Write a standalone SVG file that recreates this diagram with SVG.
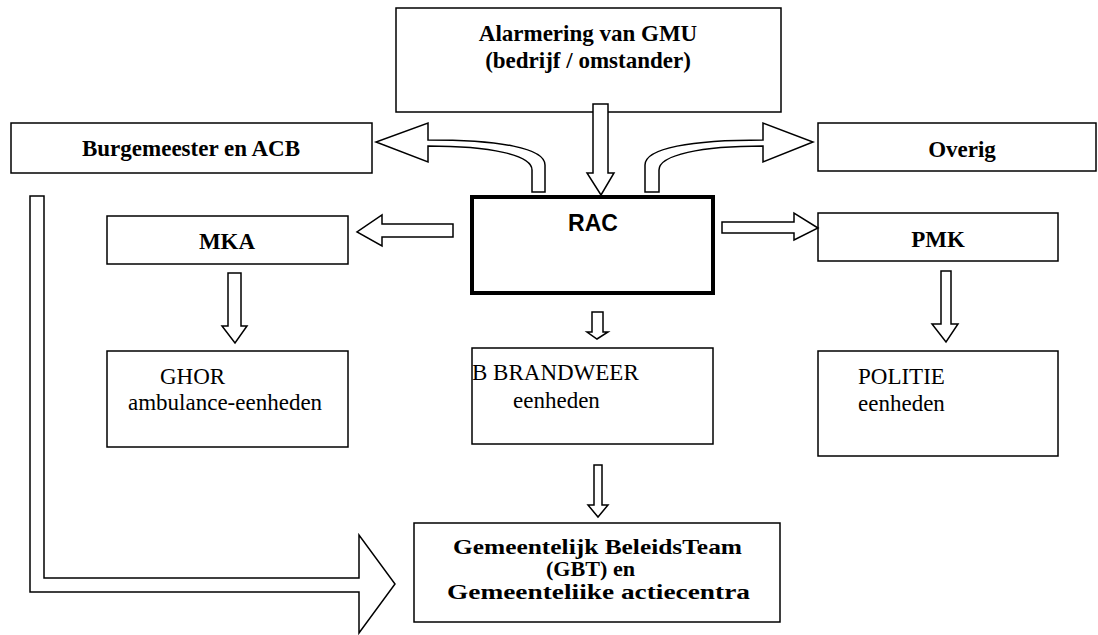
<svg xmlns="http://www.w3.org/2000/svg" width="1098" height="635" viewBox="0 0 1098 635">
<style>
.box{fill:#fff;stroke:#000;stroke-width:1.5}
.rac{fill:#fff;stroke:#000;stroke-width:4}
.arr{fill:#fff;stroke:#000;stroke-width:1.5;stroke-linejoin:miter}
.b{font-family:"Liberation Serif","Times New Roman",serif;font-weight:bold;font-size:23px;fill:#000}
.g{font-family:"Liberation Serif","Times New Roman",serif;font-weight:bold;font-size:20px;fill:#000}
.r{font-family:"Liberation Serif","Times New Roman",serif;font-size:23px;fill:#000}
.s{font-family:"Liberation Sans",Arial,sans-serif;font-weight:bold;font-size:23px;fill:#000}
</style>
<rect width="1098" height="635" fill="#fff"/>
<g id="alarmering">
<rect class="box" x="396" y="8" width="385" height="104"/>
<text class="b" x="588" y="41" text-anchor="middle">Alarmering van GMU</text>
<text class="b" x="588" y="68" text-anchor="middle">(bedrijf / omstander)</text>
</g>
<g id="burgemeester">
<rect class="box" x="11" y="123" width="361" height="50"/>
<text class="b" x="191" y="156" text-anchor="middle">Burgemeester en ACB</text>
</g>
<g id="overig">
<rect class="box" x="818" y="123" width="278" height="48"/>
<text class="b" x="962" y="157" text-anchor="middle">Overig</text>
</g>
<g id="rac">
<rect class="rac" x="472" y="197" width="241" height="96"/>
<text class="s" x="593" y="231" text-anchor="middle">RAC</text>
</g>
<g id="mka">
<rect class="box" x="107" y="216" width="241" height="48"/>
<text class="b" x="227" y="249" text-anchor="middle">MKA</text>
</g>
<g id="pmk">
<rect class="box" x="818" y="213" width="240" height="48"/>
<text class="b" x="938" y="247" text-anchor="middle">PMK</text>
</g>
<g id="ghor">
<rect class="box" x="107" y="351" width="241" height="96"/>
<text class="r" x="160" y="384">GHOR</text>
<text class="r" x="128" y="410">ambulance-eenheden</text>
</g>
<g id="brandweer">
<rect class="box" x="472" y="348" width="241" height="96"/>
<text class="r" x="472" y="380">B BRANDWEER</text>
<text class="r" x="513" y="408">eenheden</text>
</g>
<g id="politie">
<rect class="box" x="818" y="351" width="240" height="105"/>
<text class="r" x="858" y="384">POLITIE</text>
<text class="r" x="858" y="411">eenheden</text>
</g>
<g id="gbt">
<rect class="box" x="414" y="523" width="366" height="99"/>
<text class="g" x="453" y="554" textLength="289" lengthAdjust="spacingAndGlyphs">Gemeentelijk BeleidsTeam</text>
<text class="g" x="546" y="576" textLength="89" lengthAdjust="spacingAndGlyphs">(GBT) en</text>
<text class="g" x="447" y="599" textLength="303" lengthAdjust="spacingAndGlyphs">Gemeenteliike actiecentra</text>
</g>
<g id="connectors">
<path class="arr" d="M593,104 L608,104 L608,173 L614,173 L601,195 L587,173 L593,173 Z"/>
<path class="arr" d="M532,192 L532,170 C532,155 490,146 428,146 L428,162 L376,142 L428,123 L428,140 C500,140 545,148 545,165 L545,192 Z"/>
<path class="arr" d="M659,192 L659,170 C659,155 701,146 763,146 L763,162 L813,142 L763,123 L763,140 C691,140 645,148 645,165 L645,192 Z"/>
<path class="arr" d="M453,224 L453,237 L382,237 L382,246 L357,232 L382,215 L382,224 Z"/>
<path class="arr" d="M722,222 L722,233 L794,233 L794,240 L818,228 L794,213 L794,222 Z"/>
<path class="arr" d="M228,273 L241,273 L241,326 L247,326 L235,343 L222,326 L228,326 Z"/>
<path class="arr" d="M941,271 L951,271 L951,324 L958,324 L946,342 L932,324 L941,324 Z"/>
<path class="arr" d="M592,312 L603,312 L603,332 L608,332 L597,339 L587,332 L592,332 Z"/>
<path class="arr" d="M594,465 L602,465 L602,505 L608,505 L598,517 L588,505 L594,505 Z"/>
<path class="arr" d="M30,196 L44,196 L44,578 L359,578 L359,535 L395,584 L359,633 L359,592 L30,592 Z"/>
</g>
</svg>
